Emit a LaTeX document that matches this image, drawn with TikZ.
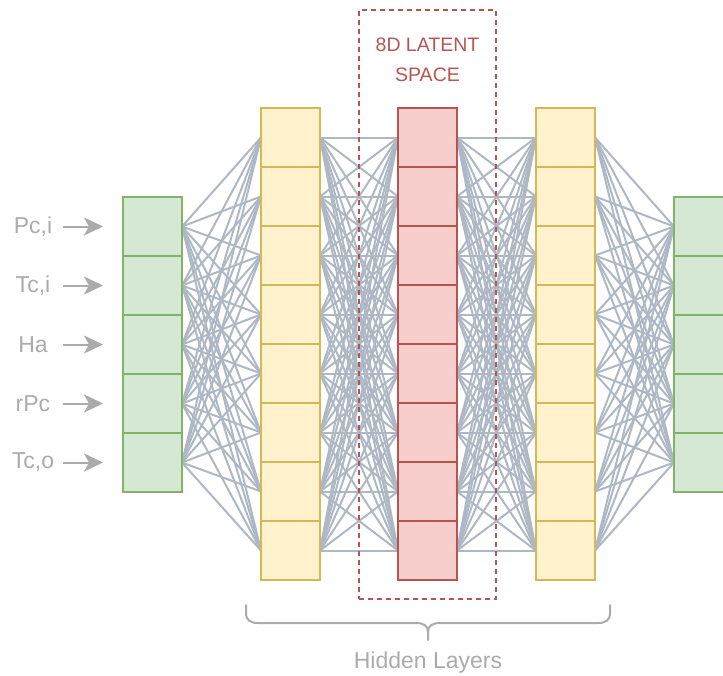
\documentclass[tikz,border=0pt]{standalone}
\usepackage{fontspec}
\setmainfont{Liberation Sans}
\usetikzlibrary{arrows.meta}
\definecolor{inFill}{HTML}{D5E8D4}
\definecolor{inLine}{HTML}{82B366}
\definecolor{hidFill}{HTML}{FFF2CC}
\definecolor{hidLine}{HTML}{D6B656}
\definecolor{latFill}{HTML}{F8CECC}
\definecolor{latLine}{HTML}{B85450}
\definecolor{wire}{HTML}{AEB8C5}
\definecolor{note}{HTML}{ABABAB}
\pgfdeclarelayer{wires}
\pgfsetlayers{wires,main}
\tikzset{
  cell/.style={draw, line width=2pt, minimum width=59pt, minimum height=59pt,
               inner sep=0pt, outer sep=0pt},
  incell/.style={cell, fill=inFill, draw=inLine},
  hidcell/.style={cell, fill=hidFill, draw=hidLine},
  latcell/.style={cell, fill=latFill, draw=latLine},
  wirelink/.style={draw=wire, line width=2pt},
  lab/.style={text=note, font=\fontsize{23}{27}\selectfont, inner sep=0pt},
  feed/.style={draw=note, line width=2pt,
               -{Stealth[length=19pt, width=18pt, inset=5pt]}},
}
\begin{document}
\begin{tikzpicture}[x=1pt, y=-1pt]
\useasboundingbox (0,0) rectangle (723,675);
\clip (0,0) rectangle (723,675);

% input and output layers (5 cells each)
\foreach \i in {1,...,5} {
  \node[incell] (in\i)  at (152.5, 167.5+59*\i) {};
  \node[incell] (out\i) at (703.5, 167.5+59*\i) {};
}
% hidden layers (8 cells each)
\foreach \j in {1,...,8} {
  \node[hidcell] (ha\j) at (290.5, 78.5+59*\j) {};
  \node[latcell] (lt\j) at (427.5, 78.5+59*\j) {};
  \node[hidcell] (hb\j) at (565.5, 78.5+59*\j) {};
}

% fully connected wiring, kept behind the cells
\begin{pgfonlayer}{wires}
  \foreach \i in {1,...,5} \foreach \j in {1,...,8} {
    \draw[wirelink] (in\i.east) -- (ha\j.west);
    \draw[wirelink] (hb\j.east) -- (out\i.west);
  }
  \foreach \i in {1,...,8} \foreach \j in {1,...,8} {
    \draw[wirelink] (ha\i.east) -- (lt\j.west);
    \draw[wirelink] (lt\i.east) -- (hb\j.west);
  }
\end{pgfonlayer}

% input labels with feed arrows
\foreach \t [count=\i] in {{Pc,i},{Tc,i},{Ha},{rPc},{Tc,o}} {
  \node[lab] (lab\i) at (33, 167.5+59*\i) {\t};
  \coordinate (fs\i) at (63, 167.5+59*\i);
  \coordinate (fe\i) at (103, 167.5+59*\i);
  \draw[feed] (fs\i) -- (fe\i);
}

% latent space frame
\node[draw=latLine, line width=2pt, dash pattern=on 5pt off 4pt,
      minimum width=137pt, minimum height=589pt, inner sep=0pt]
      (latent) at (427.5, 304.5) {};
\node[text=latLine, font=\fontsize{19.5}{30}\selectfont, align=center]
      (latlab) at (427.5, 60) {8D LATENT\\SPACE};

% brace over the hidden layers
\draw[draw=note, line width=2pt, line cap=round]
  (246,605) -- (246,613) .. controls (246,620) and (250,623) .. (258,623)
  -- (416,623) .. controls (424,623) and (428,626) .. (428,632) -- (428,640)
  (610,605) -- (610,613) .. controls (610,620) and (606,623) .. (598,623)
  -- (440,623) .. controls (432,623) and (428,626) .. (428,632);
\coordinate (braceTip) at (428,640);
\node[lab] (hidlab) at (428, 663) {Hidden Layers};
\end{tikzpicture}
\end{document}
